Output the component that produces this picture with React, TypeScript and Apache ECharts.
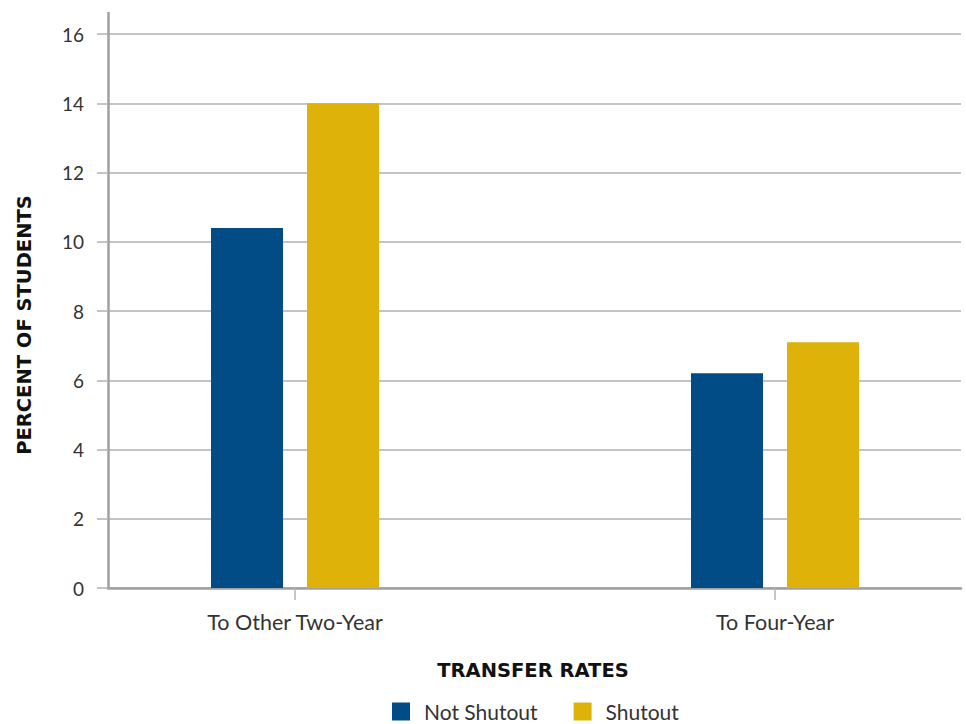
import React, { useEffect, useRef } from "react";
import * as echarts from "echarts";

const categories = ["To Other Two-Year", "To Four-Year"];
const seriesNames = ["Not Shutout", "Shutout"];
const notShutout = [10.4, 6.2];
const shutout = [14.0, 7.1];
const yTicks = [0, 2, 4, 6, 8, 10, 12, 14, 16];

const BLUE = "#014c87";
const GOLD = "#dfb209";
const FONT = "Lato";
const TITLE_FONT = "DejaVu Sans";

export default function App() {
  const ref = useRef<HTMLDivElement>(null);
  useEffect(() => {
    if (!ref.current) return;
    const chart = echarts.init(ref.current, undefined, { renderer: "svg" });
    const catIdx = categories.map((_, i) => i);
    chart.setOption({
      animation: false,
      backgroundColor: "#ffffff",
      grid: { left: 108, right: 5, top: 34, bottom: 136, containLabel: false },
      xAxis: {
        type: "value",
        min: -0.3896,
        max: 1.3875,
        axisLine: { show: true, onZero: false, lineStyle: { color: "#a0a0a0", width: 2.5 } },
        axisTick: {
          show: true,
          customValues: catIdx,
          length: 12,
          lineStyle: { color: "#b4b4b4", width: 1.5 },
        },
        axisLabel: {
          customValues: catIdx,
          formatter: (v: number) => categories[Math.round(v)] ?? "",
          fontFamily: FONT,
          fontSize: 21.5,
          color: "#333333",
          margin: 23,
        },
        splitLine: { show: false },
      },
      yAxis: {
        type: "value",
        min: 0,
        max: 16,
        interval: 2,
        axisLine: { show: true, onZero: false, lineStyle: { color: "#a0a0a0", width: 2.5 } },
        axisTick: {
          show: true,
          length: 11,
          lineStyle: { color: "#b0b0b0", width: 1.5 },
        },
        axisLabel: {
          fontFamily: FONT,
          fontSize: 19,
          color: "#333333",
          margin: 24,
          formatter: (v: number) => (yTicks.includes(v) ? String(v) : ""),
        },
        splitLine: { show: true, lineStyle: { color: "#b0b0b0", width: 1.5 } },
      },
      legend: {
        left: 392,
        top: 701,
        padding: 0,
        icon: "rect",
        itemWidth: 18,
        itemHeight: 18,
        itemGap: 36,
        textStyle: {
          fontFamily: FONT,
          fontSize: 21,
          color: "#333333",
          padding: [0, 0, 0, 9],
        },
        data: seriesNames,
      },
      graphic: [
        {
          type: "line",
          shape: { x1: 108.5, y1: 12, x2: 108.5, y2: 34 },
          style: { stroke: "#a0a0a0", lineWidth: 2.5 },
          z: 10,
        },
        {
          type: "text",
          x: 24,
          y: 325,
          rotation: Math.PI / 2,
          style: {
            text: "PERCENT OF STUDENTS",
            fontFamily: TITLE_FONT,
            fontWeight: "bold",
            fontSize: 19.5,
            fill: "#111111",
            textAlign: "center",
            textVerticalAlign: "middle",
          },
        },
        {
          type: "text",
          x: 533,
          y: 670,
          style: {
            text: "TRANSFER RATES",
            fontFamily: TITLE_FONT,
            fontWeight: "bold",
            fontSize: 19.5,
            fill: "#111111",
            textAlign: "center",
            textVerticalAlign: "middle",
          },
        },
      ],
      series: [
        {
          name: seriesNames[0],
          type: "bar",
          data: notShutout.map((v, i) => [i, v]),
          barWidth: 72,
          barGap: "33.33%",
          itemStyle: { color: BLUE },
        },
        {
          name: seriesNames[1],
          type: "bar",
          data: shutout.map((v, i) => [i, v]),
          barWidth: 72,
          barGap: "33.33%",
          itemStyle: { color: GOLD },
        },
      ],
    });
    return () => chart.dispose();
  }, []);
  return <div ref={ref} style={{ width: 966, height: 724, position: "absolute", left: 0, top: 0 }} />;
}
